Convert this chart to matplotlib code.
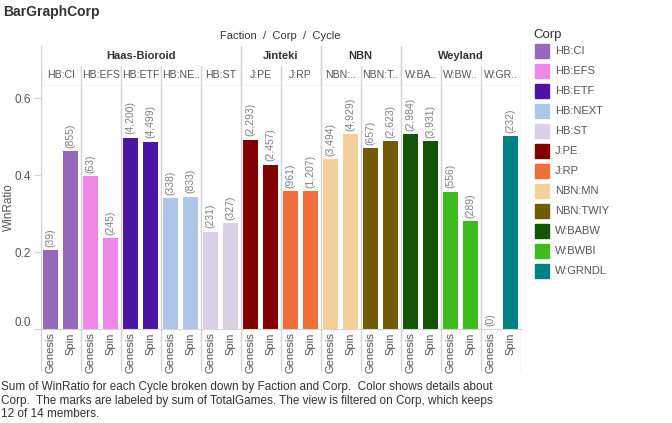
import numpy as np
import matplotlib
matplotlib.use("Agg")
import matplotlib.pyplot as plt
from matplotlib.patches import Rectangle

plt.rcParams['font.family'] = ['Liberation Sans', 'DejaVu Sans']

# data
factions = ['Haas-Bioroid', 'Jinteki', 'NBN', 'Weyland']
faction_sizes = [5, 2, 2, 3]
corps = ['HB:CI', 'HB:EFS', 'HB:ETF', 'HB:NEXT', 'HB:ST', 'J:PE', 'J:RP',
         'NBN:MN', 'NBN:TWIY', 'W:BABW', 'W:BWBI', 'W:GRNDL']
corp_headers = ['HB:CI', 'HB:EFS', 'HB:ETF', 'HB:NE..', 'HB:ST', 'J:PE', 'J:RP',
                'NBN:..', 'NBN:T..', 'W:BA..', 'W:BW..', 'W:GR..']
cycles = ['Genesis', 'Spin']
win_genesis = [0.206, 0.398, 0.497, 0.341, 0.253, 0.492, 0.359, 0.442, 0.471, 0.507, 0.357, 0.0]
win_spin = [0.463, 0.237, 0.487, 0.344, 0.276, 0.427, 0.359, 0.507, 0.489, 0.489, 0.281, 0.502]
games_genesis = [39, 63, 4200, 338, 231, 2293, 961, 3494, 657, 2984, 556, 0]
games_spin = [855, 245, 4499, 833, 327, 2457, 1207, 4929, 2623, 3931, 289, 232]
colors = ['#9668bb', '#ee87e6', '#4b16a2', '#aec7e8', '#dbd1e4', '#820000', '#f06e37',
          '#f4d09a', '#725a06', '#145407', '#3dbb1f', '#008282']

W, H = 672, 423
fig = plt.figure(figsize=(W / 100, H / 100), dpi=100)

def fx(px):
    return px / W

def fy(py):
    return 1 - py / H

grid = '#d4d4d4'
txt = '#333333'
left, right = 40.7, 520.7
top, bottom = 86, 329.3

ax = fig.add_axes([fx(left), fy(bottom), fx(right - left), fy(top) - fy(bottom)])
n = len(corps)
ax.set_xlim(0, 2 * n)
ax.set_ylim(0, 0.632)

for i in range(n):
    vals = [win_genesis[i], win_spin[i]]
    games = [games_genesis[i], games_spin[i]]
    for j in range(2):
        x = 2 * i + j + 0.5
        ax.bar(x, vals[j], width=0.77, color=colors[i])
        ax.annotate('({:,})'.format(games[j]), (x, vals[j]), xytext=(0, 2.5),
                    textcoords='offset points', rotation=90, ha='center', va='bottom',
                    fontsize=7.5, color='#808080')

for i in range(n + 1):
    ax.axvline(2 * i, color=grid, lw=1, zorder=0)

for s in ['top', 'right']:
    ax.spines[s].set_visible(False)
ax.spines['left'].set_color(grid)
ax.spines['bottom'].set_color(grid)
ax.set_xticks([])
ax.set_yticks([0.0, 0.2, 0.4, 0.6])
ax.set_yticklabels(['0.0', '0.2', '0.4', '0.6'])
ax.tick_params(axis='y', length=5, color=grid, labelsize=8.5, labelcolor='#555555', pad=2)
ax.get_yticklabels()[0].set_va('bottom')

fig.text(fx(9), fy(207), 'WinRatio', rotation=90, ha='center', va='center',
         fontsize=8.5, color='#555555')

# header rows
hax = fig.add_axes([fx(left), fy(top), fx(right - left), fy(46) - fy(top)])
hax.set_xlim(0, 2 * n)
hax.set_ylim(0, 1)
hax.axis('off')
hax.axhline(0, color=grid, lw=1)
pos = 0
for f, sz in zip(factions, faction_sizes):
    hax.axvline(2 * pos, color=grid, lw=1)
    hax.text(2 * pos + sz, 0.75, f, ha='center', va='center', fontsize=8,
             fontweight='bold', color=txt)
    pos += sz
hax.axvline(2 * n, color=grid, lw=1)
for i in range(n):
    hax.axvline(2 * i, ymin=0, ymax=0.5, color=grid, lw=1)
    hax.text(2 * i + 1, 0.27, corp_headers[i], ha='center', va='center', fontsize=7.6,
             color='#555555')

fig.text(fx((left + right) / 2), fy(36), 'Faction  /  Corp  /  Cycle', ha='center',
         va='center', fontsize=8, color=txt)

# cycle labels below
bax = fig.add_axes([fx(left), fy(372), fx(right - left), fy(bottom) - fy(372)])
bax.set_xlim(0, 2 * n)
bax.set_ylim(0, 1)
bax.axis('off')
for i in range(n + 1):
    bax.axvline(2 * i, color=grid, lw=1)
for i in range(n):
    for j in range(2):
        bax.text(2 * i + j + 0.5, 0.93, cycles[j], rotation=90, ha='center', va='top',
                 fontsize=8, color='#555555')

# legend
fig.text(fx(533), fy(35), 'Corp', ha='left', va='center', fontsize=9.5, color=txt)
for i, (c, col) in enumerate(zip(corps, colors)):
    yc = 51 + 20 * i
    fig.patches.append(Rectangle((fx(535), fy(yc + 7)), fx(14), fy(yc - 7) - fy(yc + 7),
                                 transform=fig.transFigure, color=col))
    fig.text(fx(555), fy(yc), c, ha='left', va='center', fontsize=8, color='#555555')

fig.text(fx(3), fy(12), 'BarGraphCorp', ha='left', va='center', fontsize=10,
         fontweight='bold', color=txt)

caption = ['Sum of WinRatio for each Cycle broken down by Faction and Corp.  Color shows details about',
           'Corp.  The marks are labeled by sum of TotalGames. The view is filtered on Corp, which keeps',
           '12 of 14 members.']
for k, line in enumerate(caption):
    fig.text(fx(1), fy(387 + 13.7 * k), line, ha='left', va='center', fontsize=8.5, color=txt)

fig.savefig('out.png', dpi=100)
